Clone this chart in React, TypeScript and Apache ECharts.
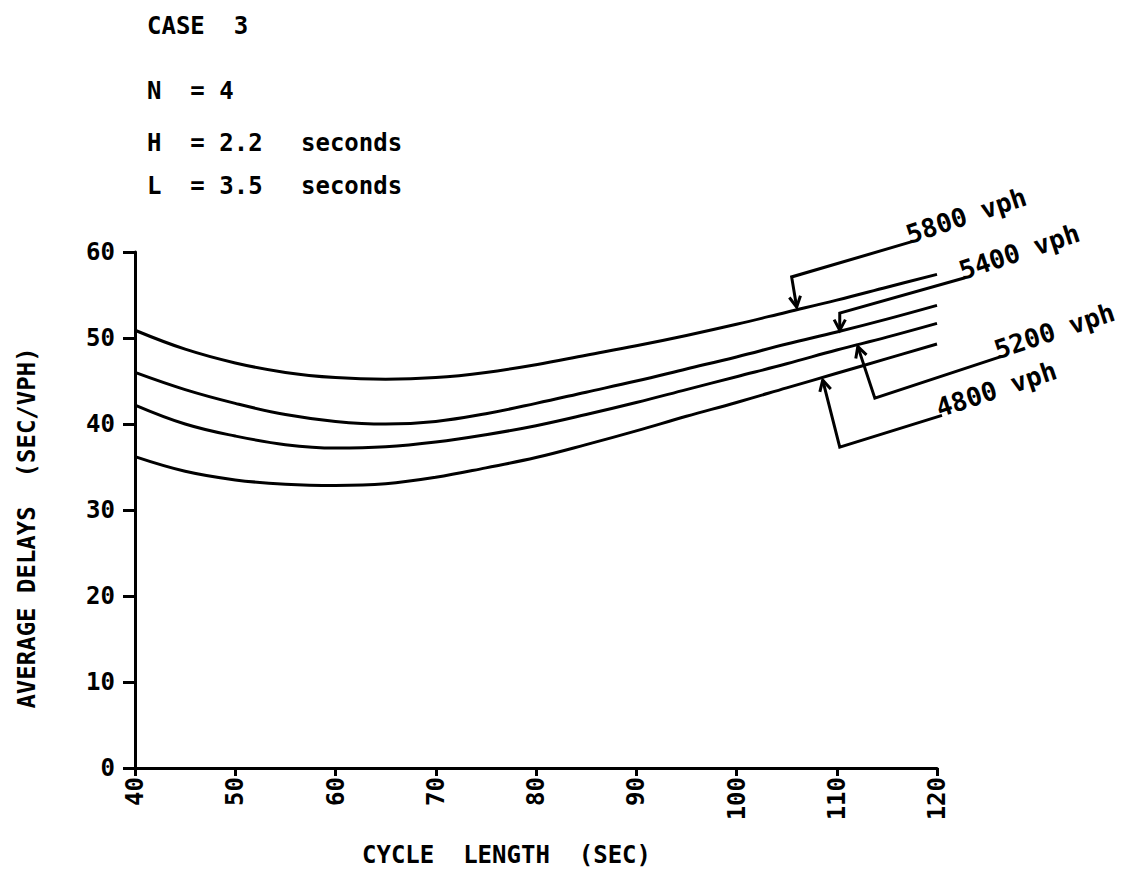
import React, { useEffect, useRef } from "react";
import * as echarts from "echarts";

// Cycle length (sec)
const CYCLE = [40, 45, 50, 55, 60, 65, 70, 75, 80, 85, 90, 95, 100, 105, 110, 115, 120];
// Average delays (sec/vph) per volume
const D5800 = [50.9, 48.7, 47.1, 46.0, 45.4, 45.2, 45.4, 46.0, 46.9, 48.0, 49.1, 50.3, 51.6, 53.0, 54.4, 55.9, 57.4];
const D5400 = [46.0, 44.0, 42.4, 41.1, 40.3, 40.0, 40.3, 41.2, 42.4, 43.7, 45.0, 46.4, 47.8, 49.3, 50.7, 52.2, 53.8];
const D5200 = [42.2, 40.0, 38.6, 37.6, 37.2, 37.35, 37.9, 38.75, 39.8, 41.1, 42.5, 44.0, 45.5, 47.0, 48.6, 50.1, 51.7];
const D4800 = [36.2, 34.5, 33.5, 33.0, 32.85, 33.05, 33.8, 34.9, 36.1, 37.6, 39.2, 40.9, 42.5, 44.2, 45.9, 47.6, 49.3];

const SERIES_NAMES = ["5800 vph", "5400 vph", "5200 vph", "4800 vph"];
const SERIES_DATA = [D5800, D5400, D5200, D4800];

// Annotation leaders (data coordinates): arrow tip, elbow, label end
const ANNOT_TIP = [[106.0, 53.6], [110.3, 50.9], [112.1, 49.0], [108.6, 45.1]];
const ANNOT_ELBOW = [[105.5, 57.1], [110.3, 52.9], [113.8, 43.0], [110.3, 37.3]];
const ANNOT_END = [[117.5, 61.2], [122.8, 57.0], [126.3, 47.8], [120.5, 41.0]];

const X_TITLE = "CYCLE  LENGTH  (SEC)";
const Y_TITLE = "AVERAGE DELAYS  (SEC/VPH)";
const INFO_LINES = ["CASE  3", "N  = 4", "H  = 2.2", "L  = 3.5"];
const INFO_UNITS = ["", "", "seconds", "seconds"];

const FONT = "'DejaVu Sans Mono', 'Liberation Mono', monospace";

export default function App() {
  const ref = useRef<HTMLDivElement>(null);

  useEffect(() => {
    if (!ref.current) return;
    const chart = echarts.init(ref.current, undefined, { renderer: "svg" });

    const lineSeries = SERIES_DATA.map((arr, i) => ({
      name: SERIES_NAMES[i],
      type: "line",
      smooth: 0.4,
      showSymbol: false,
      symbol: "none",
      data: CYCLE.map((x, j) => [x, arr[j]]),
      lineStyle: { color: "#000", width: 3 },
      z: 3,
    }));

    chart.setOption({
      animation: false,
      backgroundColor: "#fff",
      grid: { left: 135, right: 194, top: 252, bottom: 104 },
      xAxis: {
        type: "value",
        min: 40,
        max: 120,
        interval: 10,
        axisLine: { show: true, onZero: false, lineStyle: { color: "#000", width: 3 } },
        axisTick: { show: true, length: 8, lineStyle: { color: "#000", width: 3 } },
        splitLine: { show: false },
        axisLabel: {
          rotate: 90,
          margin: 9,
          color: "#000",
          fontFamily: FONT,
          fontWeight: "bold",
          fontSize: 24,
        },
      },
      yAxis: {
        type: "value",
        min: 0,
        max: 60,
        interval: 10,
        axisLine: { show: true, onZero: false, lineStyle: { color: "#000", width: 3 } },
        axisTick: { show: true, length: 12, lineStyle: { color: "#000", width: 3 } },
        splitLine: { show: false },
        axisLabel: {
          margin: 20,
          color: "#000",
          fontFamily: FONT,
          fontWeight: "bold",
          fontSize: 24,
        },
      },
      series: lineSeries,
    });

    const px = (p: number[]) => chart.convertToPixel({ gridIndex: 0 }, p) as number[];

    const graphics: any[] = [];
    const textStyle = (size: number) => ({
      fill: "#000",
      font: `bold ${size}px ${FONT}`,
    });

    // Info block
    const infoY = [26, 91, 143, 186];
    INFO_LINES.forEach((t, i) => {
      graphics.push({
        type: "text",
        x: 147,
        y: infoY[i],
        style: { ...textStyle(24), text: t, textAlign: "left", textVerticalAlign: "middle" },
      });
      if (INFO_UNITS[i]) {
        graphics.push({
          type: "text",
          x: 301,
          y: infoY[i],
          style: { ...textStyle(24), text: INFO_UNITS[i], textAlign: "left", textVerticalAlign: "middle" },
        });
      }
    });

    // Axis titles
    graphics.push({
      type: "text",
      x: 362,
      y: 855,
      style: { ...textStyle(24), text: X_TITLE, textAlign: "left", textVerticalAlign: "middle" },
    });
    graphics.push({
      type: "text",
      x: 27,
      y: 528,
      rotation: Math.PI / 2,
      style: { ...textStyle(24), text: Y_TITLE, textAlign: "center", textVerticalAlign: "middle" },
    });

    // Leaders with arrows and labels
    const lineStyle = { stroke: "#000", lineWidth: 3, fill: null };
    SERIES_NAMES.forEach((name, i) => {
      const tip = px(ANNOT_TIP[i]);
      const elbow = px(ANNOT_ELBOW[i]);
      const end = px(ANNOT_END[i]);
      graphics.push({
        type: "polyline",
        shape: { points: [tip, elbow, end] },
        style: lineStyle,
        z: 10,
      });
      const dx = tip[0] - elbow[0];
      const dy = tip[1] - elbow[1];
      const len = Math.hypot(dx, dy) || 1;
      const ux = dx / len;
      const uy = dy / len;
      const a = (28 * Math.PI) / 180;
      const L = 12;
      const wing = (s: number) => {
        const c = Math.cos(s * a);
        const sn = Math.sin(s * a);
        const rx = ux * c - uy * sn;
        const ry = ux * sn + uy * c;
        return [tip[0] - rx * L, tip[1] - ry * L];
      };
      graphics.push({
        type: "polyline",
        shape: { points: [wing(1), tip, wing(-1)] },
        style: lineStyle,
        z: 10,
      });
      graphics.push({
        type: "text",
        x: end[0] - 1,
        y: end[1] + 6,
        rotation: 0.32,
        style: { ...textStyle(26), text: name, textAlign: "left", textVerticalAlign: "bottom" },
        z: 10,
      });
    });

    chart.setOption({ graphic: graphics });

    return () => {
      chart.dispose();
    };
  }, []);

  return (
    <div
      ref={ref}
      style={{ position: "absolute", left: 0, top: 0, width: 1131, height: 872, background: "#fff" }}
    />
  );
}
